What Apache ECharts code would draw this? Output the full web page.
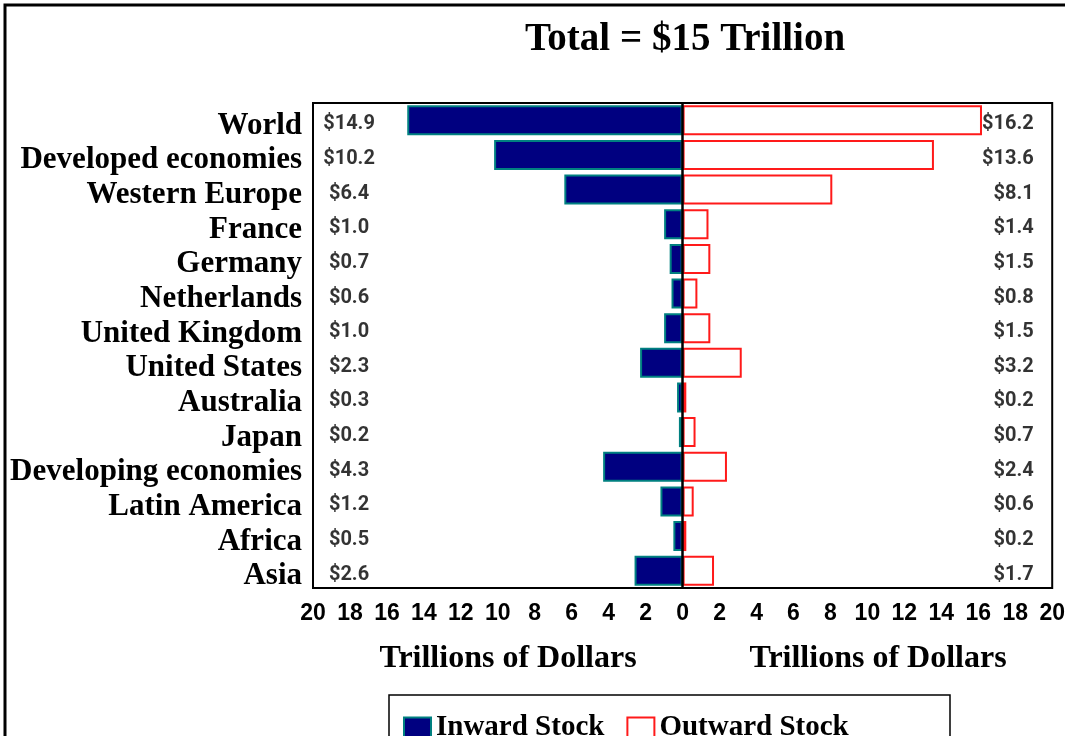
<!DOCTYPE html>
<html>
<head>
<meta charset="utf-8">
<script src="https://cdn.jsdelivr.net/npm/echarts@6/dist/echarts.min.js"></script>
<style>
  html, body { margin: 0; padding: 0; background: #fff; }
  #chart { width: 1068px; height: 736px; }
</style>
</head>
<body>
<div id="chart"></div>
<script>
// regions, top to bottom
const regions = ['World', 'Developed economies', 'Western Europe', 'France', 'Germany',
  'Netherlands', 'United Kingdom', 'United States', 'Australia', 'Japan',
  'Developing economies', 'Latin America', 'Africa', 'Asia']
// trillions of dollars
const inwardStock = [14.9, 10.2, 6.4, 1.0, 0.7, 0.6, 1.0, 2.3, 0.3, 0.2, 4.3, 1.2, 0.5, 2.6]
const outwardStock = [16.2, 13.6, 8.1, 1.4, 1.5, 0.8, 1.5, 3.2, 0.2, 0.7, 2.4, 0.6, 0.2, 1.7]
const xTicks = { min: -20, max: 20, interval: 2 }

const serif = '"Liberation Serif", "Times New Roman", serif'
const narrow = 'Roboto, "Liberation Sans", sans-serif'

// value columns sit at fixed spots inside the plot
const leftColX = -18.05
const rightColX = 19.0

const valueRich = {
  v: {
    padding: [8, 0, 0, 0],
    fontFamily: narrow,
    fontWeight: 'bold',
    fontSize: 20,
    color: '#000'
  }
}

const chart = echarts.init(document.getElementById('chart'))

const option = {
  animation: false,
  backgroundColor: '#fff',
  title: {
    text: 'Total = $15 Trillion',
    left: 680,
    top: 15,
    textAlign: 'center',
    textStyle: { fontFamily: serif, fontWeight: 'bold', fontSize: 39, color: '#000' }
  },
  legend: {
    data: ['Inward Stock', 'Outward Stock'],
    left: 398,
    top: 708,
    icon: 'rect',
    itemWidth: 27,
    itemHeight: 20,
    itemGap: 22,
    textStyle: { fontFamily: serif, fontWeight: 'bold', fontSize: 29, color: '#000' }
  },
  grid: {
    left: 313,
    right: 15,
    top: 103,
    bottom: 148,
    show: true,
    borderColor: '#000',
    borderWidth: 2,
    backgroundColor: '#fff'
  },
  xAxis: {
    type: 'value',
    min: xTicks.min,
    max: xTicks.max,
    interval: xTicks.interval,
    splitLine: { show: false },
    axisLine: { show: false },
    axisTick: { show: false },
    axisLabel: {
      margin: 14,
      formatter: v => Math.abs(v),
      fontFamily: '"Liberation Sans", Arial, sans-serif',
      fontWeight: 'bold',
      fontSize: 23,
      color: '#000'
    }
  },
  yAxis: {
    type: 'category',
    data: regions,
    inverse: true,
    axisLine: { show: false },
    axisTick: { show: false },
    axisLabel: {
      interval: 0,
      margin: 11,
      formatter: v => '{c|' + v + '}',
      rich: {
        c: {
          padding: [11, 0, 0, 0],
          fontFamily: serif,
          fontWeight: 'bold',
          fontSize: 31,
          color: '#000'
        }
      }
    }
  },
  graphic: [
    {
      type: 'polyline',
      shape: { points: [[1065, 5], [5, 5], [5, 745]] },
      style: { stroke: '#000', lineWidth: 3, fill: null }
    },
    {
      type: 'rect',
      shape: { x: 389, y: 695, width: 561, height: 60 },
      style: { stroke: '#000', lineWidth: 1.5, fill: null },
      z: 0
    },
    {
      type: 'text',
      x: 508,
      y: 659,
      style: {
        text: 'Trillions of Dollars',
        align: 'center',
        verticalAlign: 'middle',
        font: 'bold 32px ' + serif,
        fill: '#000'
      }
    },
    {
      type: 'text',
      x: 878,
      y: 659,
      style: {
        text: 'Trillions of Dollars',
        align: 'center',
        verticalAlign: 'middle',
        font: 'bold 32px ' + serif,
        fill: '#000'
      }
    }
  ],
  series: [
    {
      name: 'Inward Stock',
      type: 'bar',
      data: inwardStock.map(v => -v),
      barWidth: 30,
      barGap: '-100%',
      itemStyle: { color: '#000080', borderColor: '#008080', borderWidth: 2 },
      markLine: {
        silent: true,
        symbol: 'none',
        label: { show: false },
        lineStyle: { color: '#000', width: 2.5, type: 'solid' },
        data: [{ xAxis: 0 }]
      }
    },
    {
      name: 'Outward Stock',
      type: 'bar',
      data: outwardStock,
      barWidth: 30,
      barGap: '-100%',
      itemStyle: { color: '#fff', borderColor: '#ff1a1a', borderWidth: 2 }
    },
    {
      name: 'inwardLabels',
      type: 'scatter',
      symbolSize: 0,
      silent: true,
      data: inwardStock.map((v, i) => [leftColX, i]),
      label: {
        show: true,
        position: 'inside',
        align: 'center',
        verticalAlign: 'middle',
        formatter: p => '{v|$' + inwardStock[p.dataIndex].toFixed(1) + '}',
        rich: valueRich
      }
    },
    {
      name: 'outwardLabels',
      type: 'scatter',
      symbolSize: 0,
      silent: true,
      data: outwardStock.map((v, i) => [rightColX, i]),
      label: {
        show: true,
        position: 'inside',
        align: 'right',
        verticalAlign: 'middle',
        formatter: p => '{v|$' + outwardStock[p.dataIndex].toFixed(1) + '}',
        rich: valueRich
      }
    }
  ]
}

chart.setOption(option)
</script>
</body>
</html>
